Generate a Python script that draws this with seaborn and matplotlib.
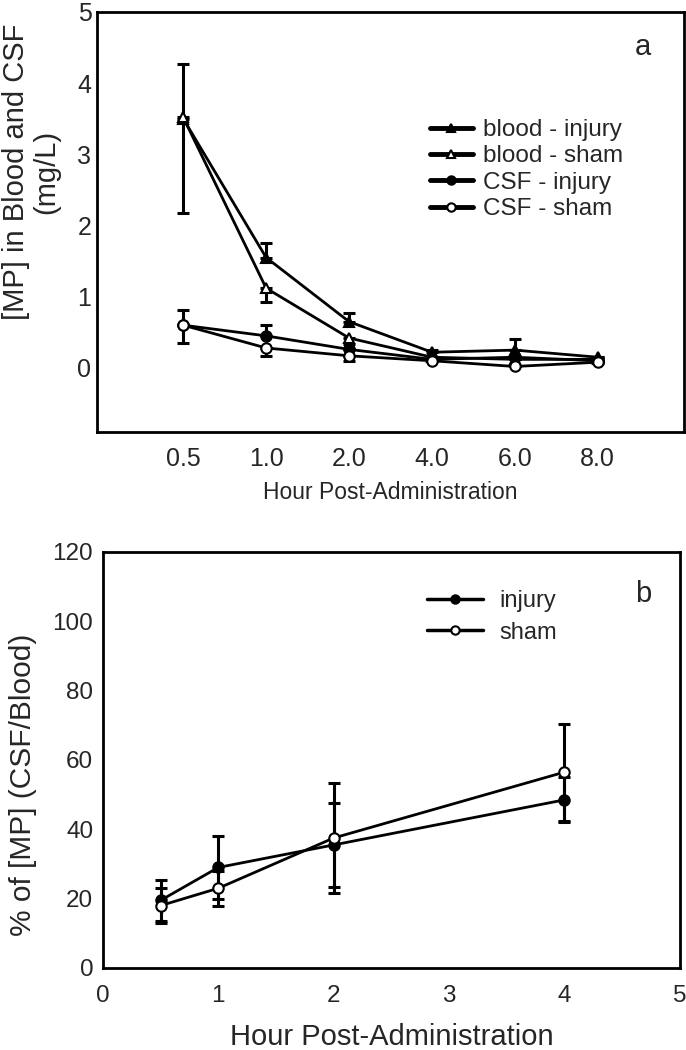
import matplotlib
matplotlib.use("Agg")
import matplotlib.pyplot as plt
import numpy as np
import pandas as pd
import seaborn as sns

# panel a: [MP] in blood and CSF
hours_a = ["0.5", "1.0", "2.0", "4.0", "6.0", "8.0"]
blood_injury = [3.50, 1.55, 0.65, 0.22, 0.25, 0.15]
blood_sham = [3.52, 1.12, 0.42, 0.15, 0.12, 0.12]
csf_injury = [0.60, 0.45, 0.26, 0.12, 0.15, 0.10]
csf_sham = [0.60, 0.28, 0.17, 0.10, 0.02, 0.08]
# error bars (up / down)
blood_injury_up = [0.77, 0.20, 0.12, 0.03, 0.15, 0.0]
blood_injury_dn = [0.0, 0.0, 0.0, 0.0, 0.0, 0.0]
blood_sham_up = [0.0, 0.0, 0.0, 0.0, 0.0, 0.0]
blood_sham_dn = [1.35, 0.20, 0.08, 0.0, 0.0, 0.0]
csf_injury_up = [0.22, 0.15, 0.0, 0.0, 0.0, 0.0]
csf_injury_dn = [0.0, 0.0, 0.0, 0.0, 0.0, 0.0]
csf_sham_up = [0.0, 0.0, 0.0, 0.0, 0.0, 0.0]
csf_sham_dn = [0.25, 0.11, 0.07, 0.0, 0.0, 0.0]

# panel b: CSF/blood ratio
hours_b = [0.5, 1, 2, 4]
ratio_injury = [19.5, 29.0, 35.5, 48.5]
ratio_injury_err = [6.0, 9.0, 12.0, 6.5]
ratio_sham = [18.0, 23.0, 37.5, 56.5]
ratio_sham_err = [5.0, 5.0, 16.0, 14.0]

sns.set_style("white")
plt.rcParams["font.family"] = ["Liberation Sans", "DejaVu Sans"]

fig = plt.figure(figsize=(6.86, 10.5), dpi=100)
ax1 = fig.add_axes([0.1414, 0.5886, 0.8557, 0.4])
ax2 = fig.add_axes([0.150, 0.0781, 0.841, 0.3962])

lw = 2.0
ms = 7.5

series_a = [
    ("blood - injury", blood_injury, blood_injury_up, blood_injury_dn, "^", "black"),
    ("blood - sham", blood_sham, blood_sham_up, blood_sham_dn, "^", "white"),
    ("CSF - injury", csf_injury, csf_injury_up, csf_injury_dn, "o", "black"),
    ("CSF - sham", csf_sham, csf_sham_up, csf_sham_dn, "o", "white"),
]
xpos = np.arange(len(hours_a))
for name, vals, up, dn, mk, fc in series_a:
    df = pd.DataFrame({"x": xpos, "y": vals})
    sns.lineplot(data=df, x="x", y="y", ax=ax1, color="black", lw=lw,
                 marker=mk, markersize=ms, markerfacecolor=fc,
                 markeredgecolor="black", markeredgewidth=1.5, label=name, zorder=3)
    ax1.errorbar(xpos, vals, yerr=[dn, up], fmt="none", ecolor="black",
                 elinewidth=2.2, capsize=4.5, capthick=2.2, zorder=2)

ax1.set_xlim(-1.04, 6.04)
ax1.set_ylim(-0.9, 5)
ax1.set_xticks(xpos)
ax1.set_xticklabels(hours_a)
ax1.set_yticks([0, 1, 2, 3, 4, 5])
ax1.tick_params(axis="both", direction="in", length=4, width=1.5, labelsize=18)
ax1.tick_params(axis="x", pad=11)
ax1.tick_params(axis="y", pad=4)
ax1.set_xlabel("Hour Post-Administration", fontsize=16.5, labelpad=7)
ax1.set_ylabel("[MP] in Blood and CSF\n(mg/L)", fontsize=21, linespacing=1.1)
ax1.yaxis.set_label_coords(-0.063, 0.62)
ax1.text(0.93, 0.917, "a", transform=ax1.transAxes, fontsize=21, ha="center", va="center")
leg1 = ax1.legend(loc="upper left", bbox_to_anchor=(0.567, 0.745), frameon=False,
                  borderpad=0, borderaxespad=0, handlelength=1.77,
                  handletextpad=0.41, labelspacing=0.18, fontsize=17.5)
for h in leg1.legend_handles:
    h.set_linewidth(3.5)
    h.set_markersize(6)

series_b = [
    ("injury", ratio_injury, ratio_injury_err, "black"),
    ("sham", ratio_sham, ratio_sham_err, "white"),
]
for name, vals, err, fc in series_b:
    df = pd.DataFrame({"x": hours_b, "y": vals})
    sns.lineplot(data=df, x="x", y="y", ax=ax2, color="black", lw=lw,
                 marker="o", markersize=ms, markerfacecolor=fc,
                 markeredgecolor="black", markeredgewidth=1.5, label=name, zorder=3)
    ax2.errorbar(hours_b, vals, yerr=err, fmt="none", ecolor="black",
                 elinewidth=2.2, capsize=4.5, capthick=2.2, zorder=2)

ax2.set_xlim(0, 5)
ax2.set_ylim(0, 120)
ax2.set_xticks([0, 1, 2, 3, 4, 5])
ax2.set_yticks([0, 20, 40, 60, 80, 100, 120])
ax2.tick_params(axis="both", direction="in", length=6, width=2, labelsize=17.5)
ax2.tick_params(axis="x", pad=12)
ax2.tick_params(axis="y", pad=7)
ax2.set_xlabel("Hour Post-Administration", fontsize=21, labelpad=12)
ax2.set_ylabel("% of [MP] (CSF/Blood)", fontsize=21.5)
ax2.yaxis.set_label_coords(-0.115, 0.44)
ax2.text(0.936, 0.90, "b", transform=ax2.transAxes, fontsize=21, ha="center", va="center")
leg2 = ax2.legend(loc="upper left", bbox_to_anchor=(0.5615, 0.908), frameon=False,
                  borderpad=0, borderaxespad=0, handlelength=2.37,
                  handletextpad=0.72, labelspacing=0.4, fontsize=17)
for h in leg2.legend_handles:
    h.set_linewidth(2.5)
    h.set_markersize(6)

for ax in (ax1, ax2):
    for sp in ax.spines.values():
        sp.set_visible(True)
        sp.set_linewidth(2)
        sp.set_color("black")

fig.savefig("out.png", dpi=100)
